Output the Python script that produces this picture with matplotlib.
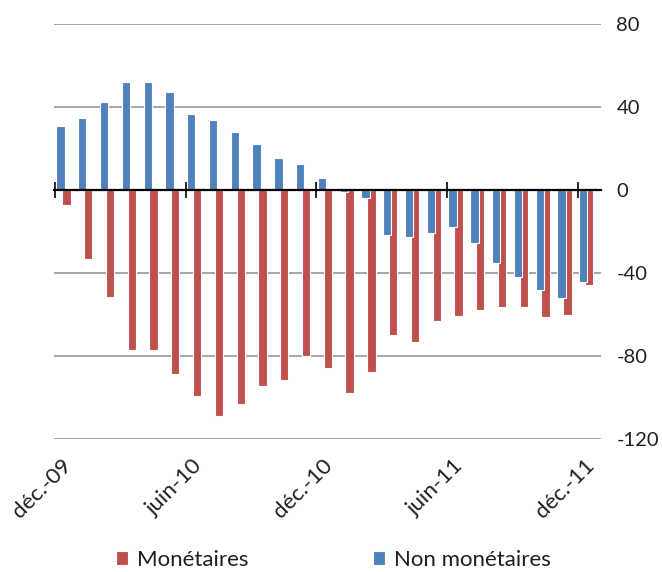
import numpy as np
import matplotlib.pyplot as plt

plt.rcParams['font.family'] = ['Lato', 'DejaVu Sans']
plt.rcParams['axes.unicode_minus'] = False

# Monthly data, déc.-09 .. déc.-11
months = ['déc.-09', 'janv.-10', 'févr.-10', 'mars-10', 'avr.-10', 'mai-10',
          'juin-10', 'juil.-10', 'août-10', 'sept.-10', 'oct.-10', 'nov.-10',
          'déc.-10', 'janv.-11', 'févr.-11', 'mars-11', 'avr.-11', 'mai-11',
          'juin-11', 'juil.-11', 'août-11', 'sept.-11', 'oct.-11', 'nov.-11',
          'déc.-11']
non_monetaires = [30.9, 34.7, 42.4, 52.0, 52.0, 47.2, 36.6, 33.8, 28.0, 22.2,
                  15.5, 12.6, 5.9, -1.0, -4.0, -21.6, -22.6, -20.6, -17.7,
                  -25.5, -35.3, -42.1, -47.9, -51.8, -44.5]
monetaires = [-7.1, -33.4, -51.6, -76.9, -76.9, -88.5, -99.2, -108.9, -103.0,
              -94.4, -91.5, -79.8, -85.6, -97.9, -87.6, -70.0, -73.0, -63.2,
              -60.5, -57.6, -56.5, -56.5, -61.3, -60.3, -45.8]
yticks = [-120, -80, -40, 0, 40, 80]

red = '#C0504D'
blue = '#4F81BD'
txt = '#1F1F1F'

fig = plt.figure(figsize=(6.62, 5.72), dpi=100)
ax = fig.add_axes([0.0816, 0.2325, 0.8265, 0.725])

x = np.arange(len(months))
w = 0.38
ax.bar(x + 0.52, monetaires, w, color=red, edgecolor='white', linewidth=0.8,
       label='Monétaires', zorder=2)
ax.bar(x + 0.25, non_monetaires, w, color=blue, edgecolor='white', linewidth=0.8,
       label='Non monétaires', zorder=3)

ax.set_ylim(-120, 80)
ax.set_xlim(-0.05, 25.07)

# y axis on the right, gridlines only
ax.set_yticks(yticks)
ax.yaxis.tick_right()
ax.tick_params(axis='y', length=0, pad=11, labelsize=14.5, labelcolor=txt)
ax.grid(axis='y', color='#A6A6A6', linewidth=1.4, zorder=0)
ax.set_axisbelow(True)

for s in ['top', 'left', 'right']:
    ax.spines[s].set_visible(False)
ax.spines['bottom'].set_position(('data', 0))
ax.spines['bottom'].set_linewidth(1.6)
ax.spines['bottom'].set_zorder(4)

# tick marks every 6 months on the zero line
ax.set_xticks(x[::6])
ax.set_xticklabels([])
ax.tick_params(axis='x', direction='inout', length=12, width=1.2)

# labels below the plot
sec = ax.secondary_xaxis('bottom')
sec.set_xticks(x[::6] + 0.6)
sec.set_xticklabels([months[i] for i in range(0, len(months), 6)])
sec.spines['bottom'].set_visible(False)
sec.tick_params(axis='x', length=0, pad=17, labelsize=16, labelcolor=txt)
for lab in sec.get_xticklabels():
    lab.set_rotation(45)
    lab.set_ha('right')
    lab.set_va('center')
    lab.set_rotation_mode('anchor')

h, l = ax.get_legend_handles_labels()
fig.legend(h, l, loc='center', bbox_to_anchor=(0.504, 0.021), ncol=2,
           frameon=False, fontsize=16, handlelength=0.55, handleheight=0.55,
           handletextpad=0.4, columnspacing=5.6, labelcolor=txt,
           borderpad=0.0)

fig.savefig('out.png', dpi=100)
